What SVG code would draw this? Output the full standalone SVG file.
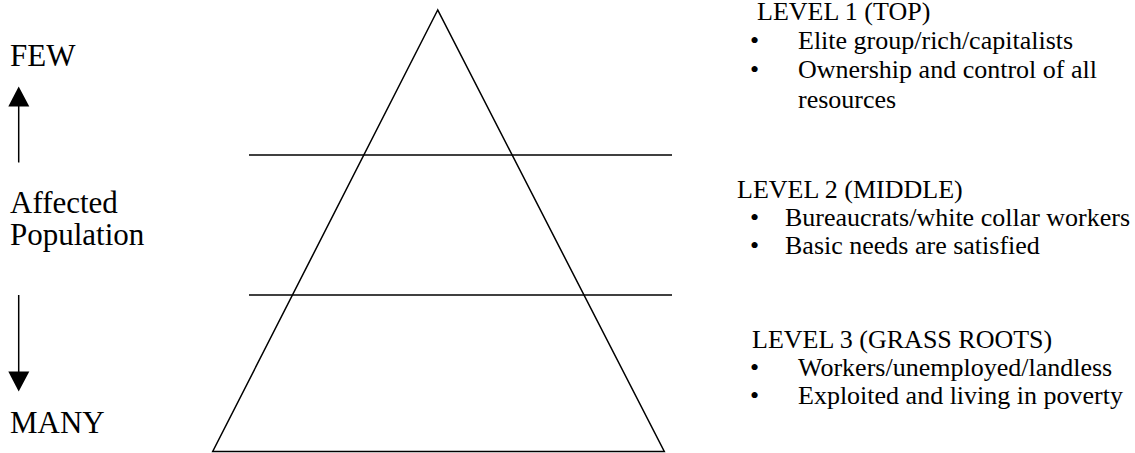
<svg xmlns="http://www.w3.org/2000/svg" width="1135" height="453" viewBox="0 0 1135 453">
<style>
.ln{stroke:#000;stroke-width:1.5;fill:none}
.lt{font-family:"Liberation Serif","Times New Roman",serif;font-size:31px;fill:#000}
.rt{font-family:"Liberation Serif","Times New Roman",serif;font-size:26px;fill:#000}
</style>
<rect width="1135" height="453" fill="#fff"/>
<g id="pyramid">
<polygon class="ln" points="437.7,10 212.7,451.5 664.3,451.5"/>
</g>
<g id="dividers">
<line class="ln" x1="249" y1="155" x2="672" y2="155"/>
<line class="ln" x1="249" y1="295" x2="672" y2="295"/>
</g>
<g id="connectors">
<line class="ln" x1="18.7" y1="162.5" x2="18.7" y2="106"/>
<polygon points="18.7,86.5 8.3,106.5 29.3,106.5" fill="#000"/>
<line class="ln" x1="18.7" y1="295" x2="18.7" y2="372"/>
<polygon points="18.7,391.5 8.3,371.5 29.3,371.5" fill="#000"/>
</g>
<g id="left-labels">
<text class="lt" x="10" y="66">FEW</text>
<text class="lt" x="10" y="213">Affected</text>
<text class="lt" x="10" y="245">Population</text>
<text class="lt" x="10" y="433">MANY</text>
</g>
<g id="level1">
<text class="rt" x="757" y="20">LEVEL 1 (TOP)</text>
<text class="rt" x="750" y="49">•</text>
<text class="rt" x="798" y="49">Elite group/rich/capitalists</text>
<text class="rt" x="750" y="78">•</text>
<text class="rt" x="798" y="78">Ownership and control of all</text>
<text class="rt" x="798" y="108">resources</text>
</g>
<g id="level2">
<text class="rt" x="737" y="198">LEVEL 2 (MIDDLE)</text>
<text class="rt" x="750" y="226">•</text>
<text class="rt" x="785" y="226">Bureaucrats/white collar workers</text>
<text class="rt" x="750" y="254">•</text>
<text class="rt" x="785" y="254">Basic needs are satisfied</text>
</g>
<g id="level3">
<text class="rt" x="752" y="348">LEVEL 3 (GRASS ROOTS)</text>
<text class="rt" x="750" y="376">•</text>
<text class="rt" x="798" y="376">Workers/unemployed/landless</text>
<text class="rt" x="750" y="404">•</text>
<text class="rt" x="798" y="404">Exploited and living in poverty</text>
</g>
</svg>
